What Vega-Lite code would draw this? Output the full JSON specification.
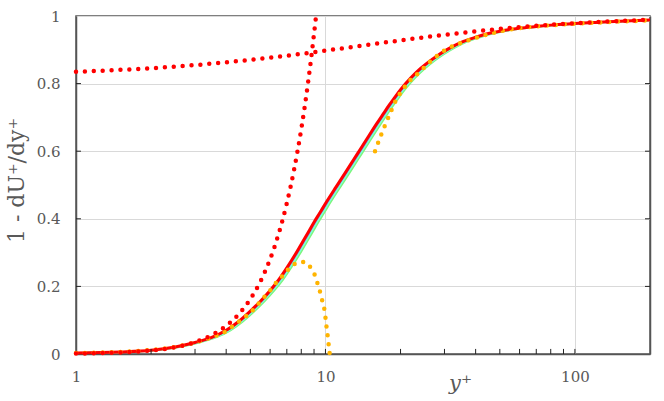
{
  "$schema": "https://vega.github.io/schema/vega-lite/v6.json",
  "width": 574,
  "height": 338,
  "autosize": {"type": "none"},
  "padding": {"left": 76, "top": 16, "right": 14, "bottom": 47},
  "background": "white",
  "config": {
    "view": {"stroke": "#555555", "strokeWidth": 1.5},
    "line": {"interpolate": "monotone"},
    "axis": {
      "labelFont": "DejaVu Serif",
      "labelFontSize": 15,
      "labelColor": "#595959",
      "titleFont": "DejaVu Serif",
      "titleColor": "#595959",
      "titleFontWeight": "normal",
      "domainColor": "#555555",
      "domainWidth": 1.5,
      "tickColor": "#222222",
      "tickWidth": 1,
      "tickOpacity": 0,
      "gridColor": "#d9d9d9",
      "gridWidth": 1
    }
  },
  "datasets": {
    "xticks": [{"v":2},{"v":3},{"v":4},{"v":5},{"v":6},{"v":7},{"v":8},{"v":9},{"v":10},{"v":20},{"v":30},{"v":40},{"v":50},{"v":60},{"v":70},{"v":80},{"v":90},{"v":100}],
    "yticks": [{"v":0.2},{"v":0.4},{"v":0.6},{"v":0.8}],
    "red": [
      {"x":1,"y":0.003},{"x":1.5,"y":0.006},{"x":2,"y":0.011},{"x":2.5,"y":0.021},{"x":3,"y":0.034},{"x":3.5,"y":0.049},{"x":4,"y":0.07},{"x":4.5,"y":0.097},{"x":5,"y":0.127},{"x":5.5,"y":0.157},{"x":6,"y":0.188},{"x":6.5,"y":0.22},{"x":7,"y":0.255},{"x":7.5,"y":0.29},{"x":8,"y":0.325},{"x":8.5,"y":0.358},{"x":9,"y":0.39},{"x":9.5,"y":0.418},{"x":10,"y":0.445},{"x":11,"y":0.493},{"x":12,"y":0.536},{"x":13,"y":0.576},{"x":14,"y":0.613},{"x":15,"y":0.648},{"x":16,"y":0.68},{"x":17,"y":0.709},{"x":18,"y":0.736},{"x":19,"y":0.76},{"x":20,"y":0.782},{"x":22,"y":0.817},{"x":24,"y":0.844},{"x":26,"y":0.865},{"x":28,"y":0.882},{"x":30,"y":0.896},{"x":32,"y":0.908},{"x":35,"y":0.922},{"x":40,"y":0.937},{"x":45,"y":0.948},{"x":50,"y":0.955},{"x":60,"y":0.964},{"x":70,"y":0.969},{"x":80,"y":0.973},{"x":100,"y":0.978},{"x":130,"y":0.982},{"x":160,"y":0.985},{"x":200,"y":0.988}
    ],
    "blue": [
      {"x":1,"y":0.0028},{"x":1.012,"y":0.003},{"x":1.518,"y":0.006},{"x":2.024,"y":0.011},{"x":2.53,"y":0.021},{"x":3.036,"y":0.034},{"x":3.542,"y":0.049},{"x":4.048,"y":0.07},{"x":4.554,"y":0.097},{"x":5.06,"y":0.127},{"x":5.566,"y":0.157},{"x":6.072,"y":0.188},{"x":6.578,"y":0.22},{"x":7.084,"y":0.255},{"x":7.59,"y":0.29},{"x":8.096,"y":0.325},{"x":8.602,"y":0.358},{"x":9.108,"y":0.39},{"x":9.614,"y":0.418},{"x":10.12,"y":0.445},{"x":11.13,"y":0.493},{"x":12.14,"y":0.536},{"x":13.16,"y":0.576},{"x":14.17,"y":0.613},{"x":15.18,"y":0.648},{"x":16.19,"y":0.68},{"x":17.2,"y":0.709},{"x":18.22,"y":0.736},{"x":19.23,"y":0.76},{"x":20.24,"y":0.782},{"x":22.26,"y":0.817},{"x":24.29,"y":0.844},{"x":26.31,"y":0.865},{"x":28.34,"y":0.882},{"x":30.36,"y":0.896},{"x":32.38,"y":0.908},{"x":35.42,"y":0.922},{"x":40.48,"y":0.937},{"x":45.54,"y":0.948},{"x":50.6,"y":0.955},{"x":60.72,"y":0.964},{"x":70.84,"y":0.969},{"x":80.96,"y":0.973},{"x":101.2,"y":0.978},{"x":131.6,"y":0.982},{"x":161.9,"y":0.985},{"x":200,"y":0.9878}
    ],
    "cyan": [
      {"x":1,"y":0.0026},{"x":1.025,"y":0.003},{"x":1.538,"y":0.006},{"x":2.05,"y":0.011},{"x":2.563,"y":0.021},{"x":3.075,"y":0.034},{"x":3.588,"y":0.049},{"x":4.1,"y":0.07},{"x":4.613,"y":0.097},{"x":5.125,"y":0.127},{"x":5.638,"y":0.157},{"x":6.15,"y":0.188},{"x":6.663,"y":0.22},{"x":7.175,"y":0.255},{"x":7.688,"y":0.29},{"x":8.2,"y":0.325},{"x":8.713,"y":0.358},{"x":9.225,"y":0.39},{"x":9.738,"y":0.418},{"x":10.25,"y":0.445},{"x":11.28,"y":0.493},{"x":12.3,"y":0.536},{"x":13.33,"y":0.576},{"x":14.35,"y":0.613},{"x":15.38,"y":0.648},{"x":16.4,"y":0.68},{"x":17.43,"y":0.709},{"x":18.45,"y":0.736},{"x":19.48,"y":0.76},{"x":20.5,"y":0.782},{"x":22.55,"y":0.817},{"x":24.6,"y":0.844},{"x":26.65,"y":0.865},{"x":28.7,"y":0.882},{"x":30.75,"y":0.896},{"x":32.8,"y":0.908},{"x":35.88,"y":0.922},{"x":41,"y":0.937},{"x":46.13,"y":0.948},{"x":51.25,"y":0.955},{"x":61.5,"y":0.964},{"x":71.75,"y":0.969},{"x":82,"y":0.973},{"x":102.5,"y":0.978},{"x":133.3,"y":0.982},{"x":164,"y":0.985},{"x":200,"y":0.9875}
    ],
    "green": [
      {"x":1,"y":0.0024},{"x":1.04,"y":0.003},{"x":1.56,"y":0.006},{"x":2.08,"y":0.011},{"x":2.6,"y":0.021},{"x":3.12,"y":0.034},{"x":3.64,"y":0.049},{"x":4.16,"y":0.07},{"x":4.68,"y":0.097},{"x":5.2,"y":0.127},{"x":5.72,"y":0.157},{"x":6.24,"y":0.188},{"x":6.76,"y":0.22},{"x":7.28,"y":0.255},{"x":7.8,"y":0.29},{"x":8.32,"y":0.325},{"x":8.84,"y":0.358},{"x":9.36,"y":0.39},{"x":9.88,"y":0.418},{"x":10.4,"y":0.445},{"x":11.44,"y":0.493},{"x":12.48,"y":0.536},{"x":13.52,"y":0.576},{"x":14.56,"y":0.613},{"x":15.6,"y":0.648},{"x":16.64,"y":0.68},{"x":17.68,"y":0.709},{"x":18.72,"y":0.736},{"x":19.76,"y":0.76},{"x":20.8,"y":0.782},{"x":22.88,"y":0.817},{"x":24.96,"y":0.844},{"x":27.04,"y":0.865},{"x":29.12,"y":0.882},{"x":31.2,"y":0.896},{"x":33.28,"y":0.908},{"x":36.4,"y":0.922},{"x":41.6,"y":0.937},{"x":46.8,"y":0.948},{"x":52,"y":0.955},{"x":62.4,"y":0.964},{"x":72.8,"y":0.969},{"x":83.2,"y":0.973},{"x":104,"y":0.978},{"x":135.2,"y":0.982},{"x":166.4,"y":0.985},{"x":200,"y":0.987}
    ],
    "orangeNear": [
      {"x":1,"y":0.003},{"x":1.5,"y":0.006},{"x":2,"y":0.012},{"x":2.5,"y":0.021},{"x":3,"y":0.034},{"x":3.5,"y":0.05},{"x":4,"y":0.068},{"x":4.29,"y":0.085},{"x":4.61,"y":0.102},{"x":4.9,"y":0.117},{"x":5.18,"y":0.134},{"x":5.46,"y":0.154},{"x":5.77,"y":0.174},{"x":6.08,"y":0.193},{"x":6.37,"y":0.213},{"x":6.77,"y":0.233},{"x":7.16,"y":0.253},{"x":7.66,"y":0.269},{"x":8.2,"y":0.272},{"x":8.75,"y":0.254},{"x":9.07,"y":0.233},{"x":9.3,"y":0.208},{"x":9.52,"y":0.183},{"x":9.7,"y":0.159},{"x":9.89,"y":0.134},{"x":10.0,"y":0.108},{"x":10.1,"y":0.08},{"x":10.2,"y":0.055},{"x":10.3,"y":0.028},{"x":10.4,"y":0.0}
    ],
    "orangeOuter": [
      {"x":15.8,"y":0.6},{"x":16.3,"y":0.627},{"x":17,"y":0.662},{"x":18,"y":0.705},{"x":19,"y":0.745},{"x":20,"y":0.773},{"x":22,"y":0.812},{"x":24,"y":0.836},{"x":26,"y":0.862},{"x":28,"y":0.882},{"x":30,"y":0.898},{"x":35,"y":0.921},{"x":40,"y":0.935},{"x":47,"y":0.95},{"x":60,"y":0.964},{"x":90,"y":0.975},{"x":135,"y":0.982},{"x":200,"y":0.987}
    ],
    "redSteep": [
      {"x":1,"y":0.0013},{"x":1.25,"y":0.0025},{"x":1.5,"y":0.0044},{"x":1.75,"y":0.007},{"x":2,"y":0.0104},{"x":2.5,"y":0.0203},{"x":3,"y":0.0351},{"x":3.5,"y":0.0557},{"x":4,"y":0.0832},{"x":4.5,"y":0.1185},{"x":5,"y":0.1625},{"x":5.5,"y":0.2163},{"x":6,"y":0.2808},{"x":6.5,"y":0.357},{"x":7,"y":0.4459},{"x":7.5,"y":0.5484},{"x":8,"y":0.6656},{"x":8.25,"y":0.73},{"x":8.5,"y":0.7983},{"x":8.75,"y":0.8709},{"x":9,"y":0.9477},{"x":9.17,"y":1.0}
    ],
    "redFlat": [
      {"x":1,"y":0.835},{"x":1.5,"y":0.8406},{"x":2,"y":0.8456},{"x":3,"y":0.8548},{"x":4,"y":0.863},{"x":5,"y":0.8703},{"x":6,"y":0.8768},{"x":7,"y":0.8827},{"x":8,"y":0.8881},{"x":10,"y":0.8975},{"x":12,"y":0.9055},{"x":15,"y":0.9153},{"x":20,"y":0.9278},{"x":25,"y":0.9371},{"x":30,"y":0.9443},{"x":40,"y":0.9547},{"x":50,"y":0.9618},{"x":60,"y":0.967},{"x":80,"y":0.974},{"x":100,"y":0.9786},{"x":130,"y":0.983},{"x":160,"y":0.986},{"x":200,"y":0.9886}
    ]
  },
  "resolve": {"axis": {"y": "independent"}},
  "layer": [
    {
      "data": {"name": "green"},
      "mark": {"type": "line", "color": "#7CF57C", "strokeWidth": 2},
      "encoding": {
        "x": {"field": "x", "type": "quantitative",
          "scale": {"type": "log", "domain": [1, 200], "nice": false},
          "axis": {
            "values": [1,2,3,4,5,6,7,8,9,10,20,30,40,50,60,70,80,90,100,200],
            "format": "~g",
            "labelExpr": "(datum.value == 1 || datum.value == 10 || datum.value == 100) ? datum.label : ''",
            "labelFlush": false,
            "labelOverlap": false,
            "tickSize": -5,
            "labelPadding": 20,
            "grid": true,
            "gridOpacity": {"condition": {"test": "datum.value == 10 || datum.value == 100", "value": 1}, "value": 0},
            "title": "y⁺",
            "titleFontStyle": "italic",
            "titleFontSize": 21,
            "titleX": 384,
            "titleY": 35,
            "titleAlign": "center",
            "titleBaseline": "alphabetic"
          }
        },
        "y": {"field": "y", "type": "quantitative",
          "scale": {"domain": [0, 1], "nice": false},
          "axis": {
            "values": [0, 0.2, 0.4, 0.6, 0.8, 1],
            "format": "~g",
            "tickSize": -5,
            "labelPadding": 21,
            "grid": true,
            "title": "1 - dU⁺/dy⁺",
            "titleFontSize": 22,
            "titleAngle": -90,
            "titleX": -60,
            "titleY": 164,
            "titleAlign": "center",
            "titleBaseline": "middle"
          }
        }
      }
    },
    {
      "data": {"name": "cyan"},
      "mark": {"type": "line", "color": "#7FFFD4", "strokeWidth": 2},
      "encoding": {
        "x": {"field": "x", "type": "quantitative"},
        "y": {"field": "y", "type": "quantitative",
          "axis": {"orient": "right", "values": [0, 0.2, 0.4, 0.6, 0.8, 1], "labels": false, "grid": false, "tickSize": -5, "title": null}
        }
      }
    },
    {
      "data": {"name": "blue"},
      "mark": {"type": "line", "color": "#6E6EF0", "strokeWidth": 1.5},
      "encoding": {
        "x": {"field": "x", "type": "quantitative"},
        "y": {"field": "y", "type": "quantitative", "axis": null}
      }
    },
    {
      "data": {"name": "red"},
      "mark": {"type": "line", "color": "#FF0000", "strokeWidth": 3},
      "encoding": {
        "x": {"field": "x", "type": "quantitative"},
        "y": {"field": "y", "type": "quantitative", "axis": null}
      }
    },
    {
      "data": {"name": "orangeNear"},
      "mark": {"type": "line", "color": "#FFB400", "strokeWidth": 4.5, "strokeCap": "round", "strokeDash": [0, 8.9]},
      "encoding": {
        "x": {"field": "x", "type": "quantitative"},
        "y": {"field": "y", "type": "quantitative", "axis": null}
      }
    },
    {
      "data": {"name": "orangeOuter"},
      "mark": {"type": "line", "color": "#FFB400", "strokeWidth": 4.5, "strokeCap": "round", "strokeDash": [0, 8.9]},
      "encoding": {
        "x": {"field": "x", "type": "quantitative"},
        "y": {"field": "y", "type": "quantitative", "axis": null}
      }
    },
    {
      "data": {"name": "redSteep"},
      "mark": {"type": "line", "color": "#FF0000", "strokeWidth": 4.5, "strokeCap": "round", "strokeDash": [0, 8.9]},
      "encoding": {
        "x": {"field": "x", "type": "quantitative"},
        "y": {"field": "y", "type": "quantitative", "axis": null}
      }
    },
    {
      "data": {"name": "redFlat"},
      "mark": {"type": "line", "color": "#FF0000", "strokeWidth": 4.5, "strokeCap": "round", "strokeDash": [0, 8.9]},
      "encoding": {
        "x": {"field": "x", "type": "quantitative"},
        "y": {"field": "y", "type": "quantitative", "axis": null}
      }
    },
    {
      "data": {"name": "xticks"},
      "mark": {"type": "rule", "color": "#222222", "strokeWidth": 1},
      "encoding": {
        "x": {"field": "v", "type": "quantitative"},
        "y": {"datum": 0, "type": "quantitative", "axis": null},
        "y2": {"datum": 0.015}
      }
    },
    {
      "data": {"name": "yticks"},
      "mark": {"type": "rule", "color": "#222222", "strokeWidth": 1},
      "encoding": {
        "x": {"datum": 1, "type": "quantitative"},
        "x2": {"datum": 1.047},
        "y": {"field": "v", "type": "quantitative", "axis": null}
      }
    },
    {
      "data": {"name": "yticks"},
      "mark": {"type": "rule", "color": "#222222", "strokeWidth": 1},
      "encoding": {
        "x": {"datum": 191, "type": "quantitative"},
        "x2": {"datum": 200},
        "y": {"field": "v", "type": "quantitative", "axis": null}
      }
    }
  ]
}
